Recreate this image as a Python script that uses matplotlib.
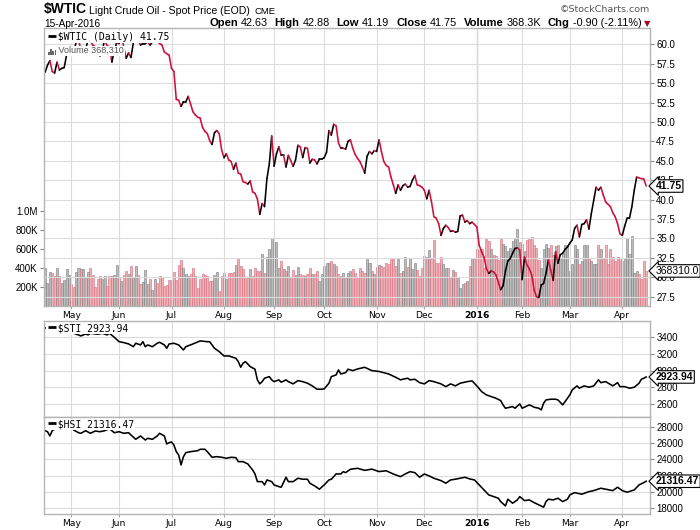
import numpy as np
import pandas as pd
import matplotlib
matplotlib.use('Agg')
import matplotlib.pyplot as plt
from matplotlib.collections import LineCollection
from matplotlib.patches import Rectangle
import matplotlib.transforms as mtrans

# $WTIC daily close, 16-Apr-2015 .. 15-Apr-2016
wtic = [56.4, 57.3, 57.9, 56.5, 56.3, 57.7, 56.7, 56.9, 57.0, 58.6,
        59.6, 59.2, 58.9, 60.3, 60.8, 59.1, 59.4, 59.3, 60.6, 60.4,
        59.9, 59.7, 59.4, 58.5, 59.3, 60.6, 59.8, 59.7, 57.7, 59.2,
        60.2, 60.1, 61.2, 59.6, 58.2, 58.9, 58.3, 60.2, 61.0, 60.5,
        59.9, 60.1, 60.1, 60.3, 59.9, 60.3, 60.6, 60.4, 60.1, 59.9,
        59.0, 58.8, 58.6, 56.9, 56.5, 52.9, 52.8, 52.0, 52.6, 52.6,
        53.3, 52.3, 51.3, 50.9, 50.6, 50.5, 49.3, 48.8, 48.5, 47.6,
        47.1, 48.6, 48.9, 48.5, 46.4, 45.4, 45.9, 45.1, 44.9, 43.9,
        44.7, 43.4, 43.3, 42.3, 42.2, 42.0, 42.4, 41.0, 40.8, 40.1,
        38.1, 39.5, 39.1, 42.7, 44.6, 48.2, 44.3, 45.9, 46.8, 45.7,
        45.7, 44.2, 45.7, 45.0, 44.3, 45.1, 47.0, 46.8, 45.4, 46.7,
        46.6, 44.7, 45.2, 45.1, 44.6, 45.2, 45.2, 45.4, 46.1, 48.9,
        48.3, 49.7, 49.5, 47.3, 46.6, 46.6, 46.5, 47.5, 47.7, 46.6,
        45.8, 45.3, 44.9, 44.2, 43.4, 45.6, 46.2, 45.9, 46.3, 46.2,
        47.7, 46.2, 44.9, 44.4, 44.2, 42.9, 41.9, 40.8, 41.9, 41.2,
        41.8, 42.0, 41.6, 41.7, 42.5, 43.1, 41.9, 41.8, 41.6, 41.2,
        40.1, 41.2, 39.7, 37.8, 37.6, 36.9, 35.4, 36.3, 36.7, 36.4,
        35.9, 36.0, 35.8, 35.9, 37.9, 38.0, 37.1, 37.3, 36.9, 37.1,
        36.8, 36.5, 34.1, 33.3, 32.6, 31.1, 30.5, 30.8, 30.7, 30.3,
        29.4, 28.4, 28.9, 30.8, 32.1, 32.4, 33.1, 33.7, 33.8, 33.5,
        29.7, 32.6, 31.6, 31.1, 30.3, 28.4, 27.5, 27.4, 29.0, 29.2,
        30.5, 32.2, 30.9, 29.6, 33.3, 31.8, 32.9, 33.1, 33.6, 33.9,
        34.4, 34.8, 36.3, 36.7, 35.2, 36.8, 36.9, 37.4, 36.2, 38.2,
        39.9, 41.6, 41.2, 41.6, 40.6, 39.7, 39.4, 39.1, 38.3, 37.8,
        36.9, 35.6, 35.4, 36.6, 37.6, 37.6, 39.1, 41.2, 42.9, 42.8,
        42.7, 42.65, 41.75]

# daily volume, thousands
vol_k = [400, 242, 358, 347, 319, 400, 319, 242, 277, 389,
         330, 232, 200, 358, 400, 389, 389, 305, 358, 400,
         330, 200, 284, 319, 284, 319, 214, 319, 319, 330,
         435, 300, 260, 330, 365, 340, 425, 305, 425, 330,
         232, 256, 382, 232, 288, 172, 284, 242, 319, 305,
         214, 225, 277, 270, 354, 277, 435, 488, 400, 340,
         319, 340, 400, 316, 193, 280, 333, 330, 316, 263,
         263, 330, 358, 158, 316, 351, 280, 351, 351, 361,
         435, 491, 421, 386, 298, 298, 386, 316, 403, 368,
         368, 544, 351, 516, 600, 719, 677, 667, 403, 474,
         386, 368, 421, 307, 382, 326, 410, 333, 326, 316,
         340, 403, 333, 340, 368, 263, 333, 421, 456, 456,
         474, 438, 421, 333, 316, 351, 298, 351, 368, 386,
         351, 305, 396, 368, 351, 509, 456, 368, 340, 410,
         431, 421, 410, 456, 438, 509, 509, 421, 491, 351,
         368, 516, 410, 502, 386, 456, 375, 316, 403, 526,
         516, 586, 491, 698, 456, 456, 516, 445, 403, 403,
         291, 375, 361, 291, 193, 228, 245, 263, 421, 509,
         491, 596, 586, 596, 403, 702, 684, 600, 540, 520,
         480, 702, 656, 632, 579, 614, 684, 712, 807, 670,
         652, 582, 688, 705, 723, 645, 614, 488, 403, 596,
         656, 614, 645, 540, 630, 645, 509, 551, 645, 645,
         368, 438, 645, 596, 438, 474, 645, 645, 509, 474,
         445, 445, 645, 596, 509, 645, 438, 596, 516, 474,
         516, 509, 474, 491, 702, 544, 737, 351, 368, 333,
         280, 470, 368.31]

# (trading day, value)
sti_pts = [(0, 3510), (3, 3530), (6, 3505), (9, 3490), (12, 3448), (14, 3428), (15, 3416),
           (17, 3440), (18, 3428), (19, 3448), (22, 3436), (24, 3448), (26, 3428), (27, 3448),
           (29, 3400), (31, 3347), (33, 3336), (35, 3320), (37, 3287), (38, 3328), (40, 3308),
           (41, 3347), (42, 3287), (43, 3308), (45, 3287), (47, 3328), (48, 3340), (50, 3308),
           (51, 3268), (52, 3320), (54, 3328), (56, 3308), (58, 3248), (59, 3287), (62, 3320),
           (65, 3356), (68, 3347), (69, 3347), (71, 3268), (73, 3228), (75, 3176), (77, 3176),
           (80, 3148), (81, 3108), (82, 3041), (83, 3089), (84, 3108), (86, 3048), (88, 3017),
           (89, 2889), (90, 2841), (91, 2868), (92, 2909), (94, 2928), (95, 2889), (96, 2868),
           (98, 2889), (99, 2861), (101, 2889), (102, 2868), (104, 2841), (106, 2880), (108, 2868),
           (110, 2849), (112, 2817), (114, 2777), (116, 2777), (117, 2781), (119, 2849), (120, 2928),
           (122, 2949), (123, 3008), (124, 2960), (126, 2976), (127, 3017), (129, 3000), (131, 3020),
           (134, 3040), (137, 3000), (140, 2990), (144, 2960), (147, 2920), (149, 2889), (150, 2897),
           (152, 2909), (153, 2889), (155, 2897), (157, 2856), (159, 2841), (161, 2880), (163, 2868),
           (166, 2841), (168, 2808), (170, 2841), (172, 2817), (174, 2849), (177, 2868), (179, 2877),
           (181, 2817), (183, 2749), (185, 2709), (187, 2689), (189, 2669), (191, 2641), (192, 2589),
           (193, 2549), (196, 2569), (197, 2549), (199, 2601), (200, 2549), (203, 2589), (204, 2577),
           (205, 2561), (207, 2549), (208, 2529), (209, 2609), (210, 2649), (212, 2657), (214, 2657),
           (215, 2649), (217, 2589), (218, 2629), (220, 2709), (221, 2769), (223, 2817), (224, 2789),
           (226, 2817), (228, 2801), (230, 2817), (232, 2889), (233, 2856), (235, 2868), (238, 2817),
           (240, 2856), (241, 2808), (243, 2808), (245, 2789), (247, 2801), (249, 2849), (250, 2897),
           (251, 2909), (252, 2923.94)]

hsi_pts = [(0, 27510), (1, 27388), (2, 26862), (3, 27510), (5, 27900), (7, 28100), (9, 28300),
           (11, 27900), (12, 27596), (14, 27266), (15, 27192), (17, 27510), (19, 27192), (21, 27474),
           (23, 27388), (25, 27510), (27, 27750), (29, 27266), (31, 27388), (33, 27192), (35, 27266),
           (36, 26984), (38, 26458), (40, 26862), (42, 26372), (43, 26580), (45, 26458), (47, 26862),
           (48, 27192), (50, 26862), (51, 25882), (52, 26042), (53, 26127), (54, 25760), (55, 24940),
           (56, 24536), (57, 23312), (58, 24328), (59, 24818), (61, 24940), (64, 25062), (65, 25234),
           (67, 25234), (68, 24940), (70, 24254), (72, 24328), (74, 24254), (76, 24132), (78, 24254),
           (80, 24206), (81, 23716), (83, 23716), (85, 23434), (87, 22700), (88, 22210), (89, 21268),
           (91, 21268), (92, 20864), (93, 21476), (95, 21268), (96, 20864), (98, 20656), (99, 20583),
           (101, 21807), (102, 21268), (104, 21268), (106, 21684), (108, 21562), (110, 21562),
           (111, 21072), (113, 20742), (115, 20338), (117, 20864), (119, 21476), (120, 21562),
           (122, 22210), (124, 22210), (125, 22492), (126, 22370), (128, 22786), (131, 22900),
           (134, 22650), (137, 22800), (140, 22500), (143, 22600), (146, 22200), (149, 21880),
           (151, 22210), (153, 22492), (155, 22370), (157, 21807), (159, 22210), (161, 21966),
           (163, 21684), (166, 21390), (168, 21072), (170, 21476), (172, 21562), (174, 21684),
           (176, 21807), (178, 21598), (180, 21476), (182, 20864), (184, 20252), (186, 19640),
           (188, 19432), (190, 19236), (191, 18820), (193, 18294), (194, 19114), (196, 18624),
           (198, 19028), (199, 19432), (201, 18942), (203, 19028), (205, 18698), (207, 18416),
           (209, 18134), (210, 18820), (211, 19114), (213, 19028), (215, 19236), (217, 18820),
           (219, 19114), (220, 19640), (222, 19922), (225, 19726), (228, 20044), (230, 20166),
           (233, 20460), (235, 20338), (238, 20166), (240, 20583), (242, 20166), (244, 19970),
           (247, 20252), (249, 20864), (251, 21146), (252, 21316.47)]

holidays = ['2015-05-25', '2015-07-03', '2015-09-07', '2015-11-26', '2015-12-25',
            '2016-01-01', '2016-01-18', '2016-02-15', '2016-03-25']
dates = pd.bdate_range('2015-04-16', '2016-04-15', freq='C', holidays=holidays)

RED = '#d0103a'
GRID = '#dcdcdc'
SPINE = '#b4b4b4'
SANS = 'Liberation Sans'

n = min(len(wtic), len(vol_k), len(dates))
wtic = np.array(wtic[:n])
vol = np.array(vol_k[:n]) * 1000.0
x = np.arange(n)
down = np.r_[False, wtic[1:] < wtic[:-1]]

mpos = [i for i in range(1, n) if dates[i].month != dates[i - 1].month]
mlab = ['2016' if dates[i].month == 1 else dates[i].strftime('%b') for i in mpos]
jan = [p for p, l in zip(mpos, mlab) if l == '2016']

fig = plt.figure(figsize=(7, 5.3), dpi=100)
W, H = 700.0, 530.0
L, R = 44, 650
ax = fig.add_axes([L / W, 1 - 306 / H, (R - L) / W, 278 / H])
ax_sti = fig.add_axes([L / W, 1 - 417 / H, (R - L) / W, 96 / H])
ax_hsi = fig.add_axes([L / W, 1 - 514 / H, (R - L) / W, 97 / H])

vol_ax = ax.twinx()
ax.set_zorder(vol_ax.get_zorder() + 1)
ax.patch.set_visible(False)


def style(a, yt, fmt):
    a.set_xlim(-0.46, n + 0.6)
    a.set_yticks(yt)
    a.set_yticklabels([fmt % v for v in yt], family=SANS, fontsize=7)
    a.yaxis.tick_right()
    a.tick_params(axis='y', length=3, width=0.8, color='#888888', pad=1.5)
    a.set_xticks(mpos)
    a.grid(True, color=GRID, lw=0.8)
    a.set_axisbelow(True)
    for p in jan:
        a.axvline(p, color='#a8a8a8', lw=0.9, zorder=0.5)
    for s in a.spines.values():
        s.set_color(SPINE)
        s.set_linewidth(1.0)


def month_labels(a):
    a.set_xticklabels(mlab, family='DejaVu Sans', fontsize=6.6)
    a.tick_params(axis='x', length=2, color='#aaaaaa', pad=1.5)
    for t in a.get_xticklabels():
        if t.get_text() == '2016':
            t.set_fontweight('bold')


def tag(a, y, txt, bold=True, trans=None):
    if trans is None:
        trans = mtrans.blended_transform_factory(a.transAxes, a.transData)
    a.annotate(txt, xy=(1, y), xycoords=trans, xytext=(4, 0), textcoords='offset points',
               va='center', ha='left', family=SANS, fontsize=7.5,
               fontweight='bold' if bold else 'normal',
               bbox=dict(boxstyle='larrow,pad=0.12', fc='white', ec='black', lw=0.8),
               annotation_clip=False, zorder=20)


def legend(a, txt, y=0.985):
    a.plot([0.006, 0.02], [y - 0.03 * (0.5 if a is ax else 1.4), y - 0.03 * (0.5 if a is ax else 1.4)],
           transform=a.transAxes, color='black', lw=2, solid_capstyle='butt', zorder=21)
    a.text(0.004, y, ' ' * 2 + txt, transform=a.transAxes, va='top', ha='left',
           family='DejaVu Sans Mono', fontsize=7, zorder=20,
           bbox=dict(fc='white', ec='none', pad=0.6))


# main panel: volume bars + price line
vol_ax.bar(x, vol, width=0.85, color=np.where(down, '#f0b0b6', '#bcbcbc'),
           edgecolor=np.where(down, '#d56a7a', '#7c7c7c'), linewidth=0.4)
vol_ax.set_ylim(0, 2.92e6)
vol_ax.yaxis.tick_left()
vol_ax.set_yticks([2e5, 4e5, 6e5, 8e5, 1e6])
vol_ax.set_yticklabels(['200K', '400K', '600K', '800K', '1.0M'], family=SANS, fontsize=7)
vol_ax.tick_params(axis='y', length=3, width=0.8, color='#888888', pad=1.5)
for s in vol_ax.spines.values():
    s.set_visible(False)

style(ax, np.arange(27.5, 60.01, 2.5), '%.1f')
ax.set_ylim(26.3, 62.1)
month_labels(ax)
pts = np.column_stack([x, wtic])
segs = np.stack([pts[:-1], pts[1:]], axis=1)
ax.add_collection(LineCollection(segs, colors=np.where(down[1:], RED, 'black'),
                                 linewidths=1.15, capstyle='round', joinstyle='round'))
legend(ax, '$WTIC (Daily) 41.75')
ax.text(0.004, 0.935, '     Volume 368,310', transform=ax.transAxes, va='top', ha='left',
        family=SANS, fontsize=6.5, color='#555555', zorder=20,
        bbox=dict(fc='white', ec='none', pad=0.4))
for k, h in enumerate([0.55, 1.0, 0.7, 0.9]):
    ax.add_patch(Rectangle((0.007 + k * 0.0035, 0.9015), 0.0025, 0.022 * h,
                           transform=ax.transAxes, fc='#666666', ec='none', zorder=21))
tag(ax, wtic[-1], '41.75')
tag(ax, vol[-1], '368310.0', bold=False,
    trans=mtrans.blended_transform_factory(ax.transAxes, vol_ax.transData))

# STI panel
sd, sv = zip(*sti_pts)
style(ax_sti, [2600, 2800, 3000, 3200, 3400], '%d')
ax_sti.set_ylim(2444, 3595)
ax_sti.tick_params(axis='x', labelbottom=False, length=0)
ax_sti.plot(sd, sv, color='black', lw=1.15)
legend(ax_sti, '$STI 2923.94', y=0.975)
tag(ax_sti, sv[-1], '2923.94')

# HSI panel
hd, hv = zip(*hsi_pts)
style(ax_hsi, np.arange(18000, 28001, 2000), '%d')
ax_hsi.set_ylim(17300, 29190)
month_labels(ax_hsi)
ax_hsi.plot(hd, hv, color='black', lw=1.15)
legend(ax_hsi, '$HSI 21316.47', y=0.975)
tag(ax_hsi, hv[-1], '21316.47')

# header
t = fig.text(L / W, 1 - 13 / H, '$WTIC', family=SANS, fontsize=10, fontweight='bold', va='baseline')
t = ax.annotate('Light Crude Oil - Spot Price (EOD)', xy=(1, 0), xycoords=t, xytext=(1.5, 0),
                textcoords='offset points', va='bottom', family=SANS, fontsize=7.6,
                annotation_clip=False)
ax.annotate('CME', xy=(1, 0), xycoords=t, xytext=(3, 0), textcoords='offset points',
            va='bottom', family=SANS, fontsize=6.8, annotation_clip=False)
fig.text(L / W, 1 - 27 / H, '15-Apr-2016', family=SANS, fontsize=7.3, va='baseline')
fig.text(R / W, 1 - 12 / H, '\u00a9StockCharts.com', family='DejaVu Sans', fontsize=6.8,
         color='#555555', ha='right', va='baseline')

info = [('Open', 1), ('42.63', 0), ('High', 1), ('42.88', 0), ('Low', 1), ('41.19', 0),
        ('Close', 1), ('41.75', 0), ('Volume', 1), ('368.3K', 0), ('Chg', 1),
        ('-0.90 (-2.11%)', 0)]
t = fig.text(R / W, 1 - 26 / H, '\u25bc', family='DejaVu Sans', fontsize=6, color='#a0002a',
             ha='right', va='baseline')
for txt, b in reversed(info):
    gap = 1.5 if t.get_text() == '\u25bc' else (2.2 if b else 4.8)
    t = ax.annotate(txt, xy=(0, 0), xycoords=t, xytext=(-gap, 0), textcoords='offset points',
                    ha='right', va='bottom', family=SANS, fontsize=8.1 if b else 7.8,
                    fontweight='bold' if b else 'normal', annotation_clip=False)

fig.savefig('out.png', dpi=100, facecolor='white')
